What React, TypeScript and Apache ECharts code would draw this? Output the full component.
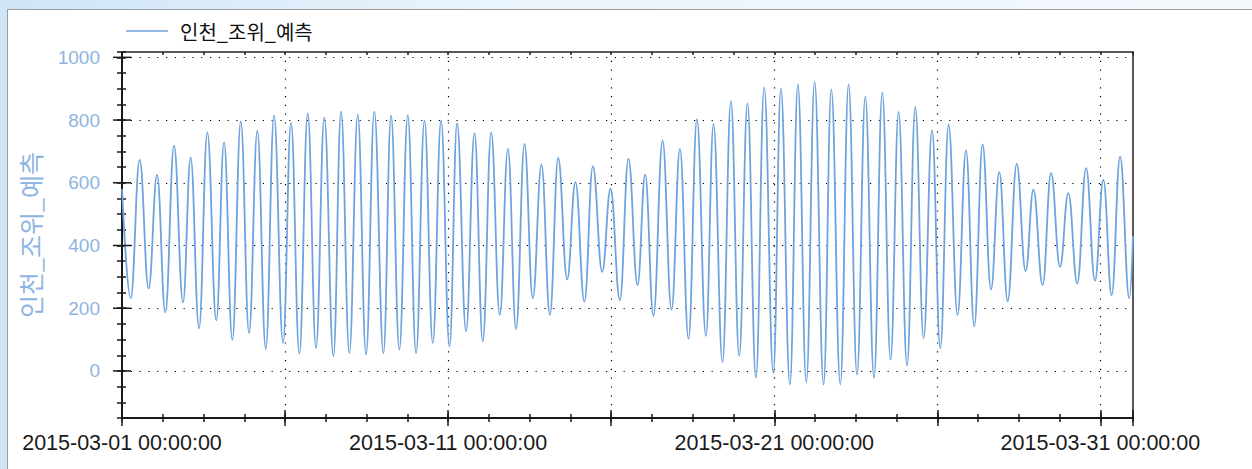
import React, { useEffect, useRef } from "react";
import * as echarts from "echarts";

const seriesName = "인천_조위_예측";
const startUTC = Date.UTC(2015, 2, 1, 0, 0, 0);
const rangeHours = 744;

// tidal extrema: hours after 2015-03-01 00:00, level
const extremaHours = [
  0, 6.4, 13, 19.6, 25.8, 31.9, 38.3, 44.9, 50.5, 56.7, 62.8, 69.4, 75.1, 81.2, 87.4, 93.5,
  99.6, 105.8, 111.9, 118.5, 124.4, 130.5, 136.7, 142.8, 148.9, 155.6, 161.2, 167.3, 173.5,
  179.6, 185.7, 192.4, 198, 204.1, 210.3, 216.4, 222.6, 228.7, 234.8, 241, 246.6, 253.2,
  259.4, 265.5, 271.7, 278, 284, 290, 296.2, 302.3, 308.7, 314.9, 321, 327.6, 333.7, 340.3,
  346.5, 353.4, 359.5, 366.4, 372.7, 379.4, 385, 391.1, 397.8, 404.4, 410.6, 416.9, 423.1,
  429.7, 435.3, 441.9, 448.1, 454.2, 460.3, 466.5, 472.6, 479.3, 484.9, 491.5, 497.4, 503.6,
  509.7, 516.3, 522, 528.6, 534.7, 540.9, 547, 553.4, 559.5, 565.6, 571.5, 577.7, 583.8,
  589.9, 596.1, 602.2, 608.3, 614.9, 621.1, 627.2, 633.3, 639.5, 645.6, 651.8, 658.4, 665,
  670.7, 677.5, 683.7, 690.3, 696.4, 703, 709.5, 716, 722.2, 728.3, 734.5, 741.3, 744,
];
const extremaLevels = [
  580, 232, 673, 263, 625, 187, 718, 219, 681, 136, 761, 161, 729, 99, 796, 121,
  766, 70, 814, 89, 792, 55, 821, 73, 808, 47, 827, 57, 817,
  52, 827, 57, 814, 68, 816, 57, 798, 89, 798, 78, 789, 126,
  758, 94, 761, 179, 708, 133, 724, 232, 658, 179, 679, 292, 602, 221,
  652, 316, 581, 226, 676, 274, 626, 176, 734, 195, 708, 102, 803,
  112, 787, 28, 861, 47, 853, -22, 904, -6, 901, -43, 914, -36,
  922, -43, 898, -43, 914, -12, 875, -22, 888, 36, 826, 17, 842,
  105, 768, 73, 785, 179, 703, 142, 722, 260, 634, 223, 660, 318,
  578, 274, 631, 332, 567, 279, 647, 288, 609, 242, 683, 232, 430,
];

const yLabelValues = [0, 200, 400, 600, 800, 1000];
const xLabelHours = [0, 240, 480, 720];

const pad = (n: number) => (n < 10 ? "0" + n : String(n));
function formatHour(h: number): string {
  const d = new Date(startUTC + h * 3600000);
  return (
    d.getUTCFullYear() + "-" + pad(d.getUTCMonth() + 1) + "-" + pad(d.getUTCDate()) + " " +
    pad(d.getUTCHours()) + ":" + pad(d.getUTCMinutes()) + ":" + pad(d.getUTCSeconds())
  );
}

const LINE = "#6fa3dc";
const AXIS = "#1a1a1a";
const BORDER = "#5a5a5a";
const DOT: number[] = [1.2, 7.6];
const LATIN = "'Liberation Sans', Arial, sans-serif";
const KR = "'Noto Sans CJK KR', 'Noto Sans', sans-serif";

export default function App() {
  const ref = useRef<HTMLDivElement>(null);
  useEffect(() => {
    if (!ref.current) return;
    const chart = echarts.init(ref.current, null, { renderer: "svg" });
    const yMin = -150;
    const yMax = 1017;
    const baseX = { type: "value", min: 0, max: rangeHours, gridIndex: 0 };
    const baseY = { type: "value", min: yMin, max: yMax, gridIndex: 0 };
    const option: any = {
      animation: false,
      backgroundColor: "transparent",
      grid: { left: 122, top: 52, right: 119, bottom: 51, containLabel: false, outerBoundsMode: "none" },
      legend: {
        data: [seriesName],
        left: 121,
        top: 16,
        icon: "rect",
        itemWidth: 42,
        itemHeight: 1.5,
        itemStyle: { color: LINE },
        textStyle: { fontSize: 20, color: "#111", fontFamily: KR, padding: [0, 0, 0, 7] },
      },
      xAxis: [
        {
          ...baseX, position: "bottom", interval: 30,
          axisLine: { show: true, onZero: false, lineStyle: { color: AXIS, width: 2 } },
          axisTick: { show: true, inside: false, length: 4, lineStyle: { color: AXIS, width: 1.5 } },
          axisLabel: { show: false }, splitLine: { show: false },
        },
        {
          ...baseX, position: "bottom", interval: 30,
          axisLine: { show: false, onZero: false },
          axisTick: { show: true, inside: true, length: 4, lineStyle: { color: AXIS, width: 1.5 } },
          axisLabel: { show: false }, splitLine: { show: false },
        },
        {
          ...baseX, position: "bottom", interval: 120,
          axisLine: { show: false, onZero: false },
          axisTick: { show: true, inside: false, length: 8, lineStyle: { color: AXIS, width: 1.5 } },
          axisLabel: {
            show: true, margin: 14, fontSize: 21.5, color: "#1a1a1a", fontFamily: LATIN,
            formatter: (v: number) => (xLabelHours.indexOf(v) >= 0 ? formatHour(v) : ""),
          },
          splitLine: { show: true, showMaxLine: false, lineStyle: { color: "#000", width: 1.2, type: DOT } },
        },
        {
          ...baseX, position: "bottom", interval: 120,
          axisLine: { show: false, onZero: false },
          axisTick: { show: true, inside: true, length: 8, lineStyle: { color: AXIS, width: 1.5 } },
          axisLabel: { show: false }, splitLine: { show: false },
        },
        {
          ...baseX, position: "top", interval: 30,
          axisLine: { show: true, onZero: false, lineStyle: { color: BORDER, width: 2 } },
          axisTick: { show: true, inside: true, length: 3, lineStyle: { color: AXIS, width: 1.5 } },
          axisLabel: { show: false }, splitLine: { show: false },
        },
      ],
      yAxis: [
        {
          ...baseY, position: "left", interval: 50,
          name: seriesName, nameLocation: "middle", nameGap: 80,
          nameTextStyle: { fontSize: 25, color: "#8db4e2", fontFamily: KR },
          axisLine: { show: true, onZero: false, lineStyle: { color: AXIS, width: 2 } },
          axisTick: { show: true, inside: false, length: 5, lineStyle: { color: AXIS, width: 1.5 } },
          axisLabel: {
            show: true, margin: 22, fontSize: 19, color: "#8db4e2", fontFamily: LATIN,
            formatter: (v: number) => (yLabelValues.indexOf(v) >= 0 ? String(v) : ""),
          },
          splitLine: { show: false },
        },
        {
          ...baseY, position: "left", interval: 50,
          axisLine: { show: false, onZero: false },
          axisTick: { show: true, inside: true, length: 4, lineStyle: { color: AXIS, width: 1.5 } },
          axisLabel: { show: false }, splitLine: { show: false },
        },
        {
          ...baseY, position: "right", interval: 50,
          axisLine: { show: true, onZero: false, lineStyle: { color: BORDER, width: 2 } },
          axisTick: { show: false }, axisLabel: { show: false }, splitLine: { show: false },
        },
      ],
      series: [
        {
          name: seriesName,
          type: "line",
          xAxisIndex: 0,
          yAxisIndex: 0,
          data: extremaHours.map((h, i) => [h, extremaLevels[i]]),
          showSymbol: false,
          symbol: "none",
          smooth: 0.42,
          smoothMonotone: "x",
          lineStyle: { color: LINE, width: 1.8 },
          itemStyle: { color: LINE },
          z: 3,
          markLine: {
            silent: true,
            symbol: ["none", "none"],
            label: { show: false },
            lineStyle: { color: "#000", width: 1.2, type: DOT },
            data: yLabelValues.map((v) => ({ yAxis: v })),
            z: 1,
          },
        },
        {
          name: "yMajorTicks",
          type: "custom",
          xAxisIndex: 0,
          yAxisIndex: 0,
          clip: false,
          silent: true,
          data: yLabelValues.map((v) => [0, v]),
          renderItem: (_p: any, api: any) => {
            const pt = api.coord([api.value(0), api.value(1)]);
            return {
              type: "line",
              shape: { x1: pt[0] - 9, y1: pt[1], x2: pt[0] + 9, y2: pt[1] },
              style: { stroke: AXIS, lineWidth: 1.5 },
            };
          },
          z: 5,
        },
      ],
    };
    chart.setOption(option);
    return () => chart.dispose();
  }, []);

  return (
    <div
      style={{
        position: "absolute", left: 0, top: 0, width: 1252, height: 469, overflow: "hidden",
        background: "linear-gradient(90deg, #cfe5f7 0%, #eaf4fc 40%, #f4f9fd 100%)",
      }}
    >
      <div
        style={{
          position: "absolute", left: 7, top: 9, width: 1260, height: 470,
          background: "#ffffff", borderLeft: "1px solid #9c9c9c", borderTop: "1px solid #9c9c9c",
        }}
      />
      <div ref={ref} style={{ position: "absolute", left: 0, top: 0, width: 1252, height: 469 }} />
    </div>
  );
}
